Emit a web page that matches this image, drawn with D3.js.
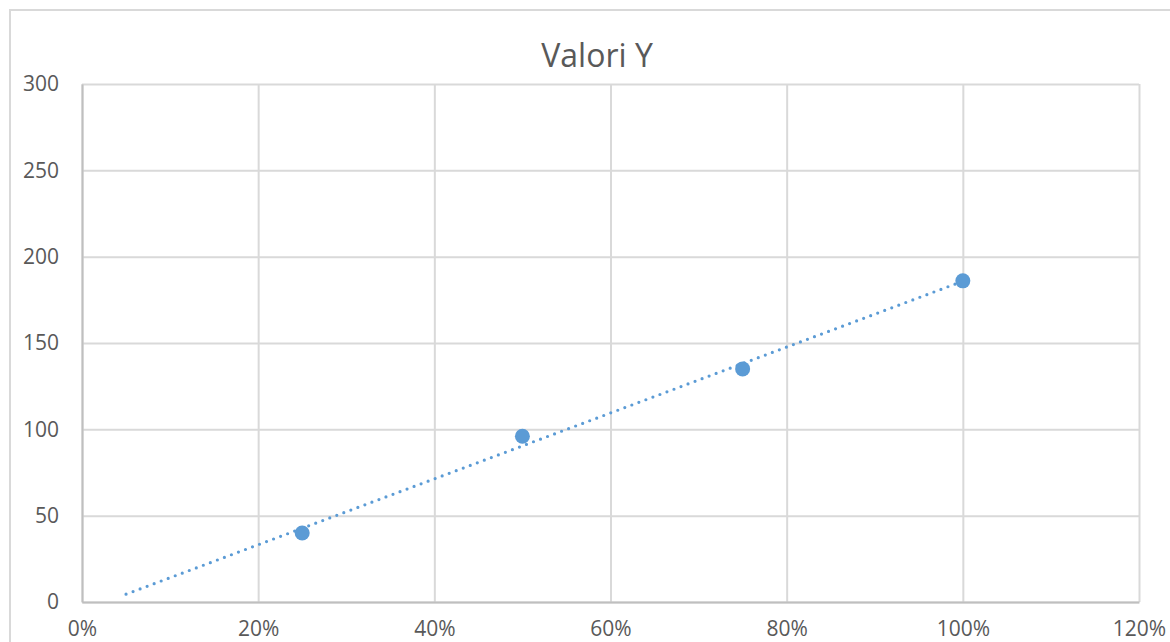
<!DOCTYPE html>
<html>
<head>
<meta charset="utf-8">
<script src="https://cdn.jsdelivr.net/npm/d3@7"></script>
<style>
  body { margin: 0; background: #fff; }
  svg { display: block; font-family: "Open Sans", sans-serif; }
</style>
</head>
<body>
<svg id="chart"></svg>
<script>
// data
const xValues = [0.25, 0.5, 0.75, 1.0];
const yValues = [40, 96, 135, 186];
const xTicks = [0, 0.2, 0.4, 0.6, 0.8, 1.0, 1.2];
const yTicks = [0, 50, 100, 150, 200, 250, 300];
const trendRange = [0.05, 1.0];
const title = 'Valori Y';

const width = 1170;
const height = 642;
const margin = { top: 84, right: 31, bottom: 40, left: 82 };

const svg = d3.select('#chart')
  .attr('width', width)
  .attr('height', height);

// outer chart border (runs off the right/bottom edge)
svg.append('rect')
  .attr('x', 10).attr('y', 10)
  .attr('width', width + 20).attr('height', height + 20)
  .attr('fill', '#fff')
  .attr('stroke', '#d9d9d9')
  .attr('stroke-width', 2);

const x = d3.scaleLinear()
  .domain([0, 1.2])
  .range([margin.left, width - margin.right]);

const y = d3.scaleLinear()
  .domain([0, 300])
  .range([height - margin.bottom, margin.top]);

// gridlines
svg.append('g')
  .attr('transform', `translate(0, ${height - margin.bottom})`)
  .call(d3.axisBottom(x).tickValues(xTicks).tickSize(-(y(0) - y(300))).tickFormat(''))
  .call(g => g.select('.domain').remove())
  .call(g => g.selectAll('line').attr('stroke', '#d9d9d9').attr('stroke-width', 2));

svg.append('g')
  .attr('transform', `translate(${margin.left}, 0)`)
  .call(d3.axisLeft(y).tickValues(yTicks).tickSize(-(x(1.2) - x(0))).tickFormat(''))
  .call(g => g.select('.domain').remove())
  .call(g => g.selectAll('line').attr('stroke', '#d9d9d9').attr('stroke-width', 2));

// axis lines + labels
const xAxis = svg.append('g')
  .attr('transform', `translate(0, ${height - margin.bottom})`)
  .call(d3.axisBottom(x).tickValues(xTicks).tickSize(0).tickPadding(14)
    .tickFormat(d => Math.round(d * 100) + '%'))
  .attr('font-family', null)
  .attr('font-size', null);
xAxis.select('.domain').attr('stroke', '#bfbfbf').attr('stroke-width', 2);
xAxis.selectAll('text')
  .attr('fill', '#595959')
  .style('font-size', '21px')
  .attr('dy', '0.95em');

const yAxis = svg.append('g')
  .attr('transform', `translate(${margin.left}, 0)`)
  .call(d3.axisLeft(y).tickValues(yTicks).tickSize(0).tickPadding(23))
  .attr('font-family', null)
  .attr('font-size', null);
yAxis.select('.domain').attr('stroke', '#bfbfbf').attr('stroke-width', 2);
yAxis.selectAll('text')
  .attr('fill', '#595959')
  .style('font-size', '21px');

// linear trendline (least squares on the points)
const mx = d3.mean(xValues);
const my = d3.mean(yValues);
const slope = d3.sum(xValues, (v, i) => (v - mx) * (yValues[i] - my)) /
  d3.sum(xValues, v => (v - mx) * (v - mx));
const intercept = my - slope * mx;

svg.append('line')
  .attr('x1', x(trendRange[0])).attr('y1', y(intercept + slope * trendRange[0]))
  .attr('x2', x(trendRange[1])).attr('y2', y(intercept + slope * trendRange[1]))
  .attr('stroke', '#5b9bd5')
  .attr('stroke-width', 3.2)
  .attr('stroke-linecap', 'round')
  .attr('stroke-dasharray', '0 7.5');

// points
svg.append('g')
  .selectAll('circle')
  .data(xValues.map((v, i) => ({ x: v, y: yValues[i] })))
  .join('circle')
  .attr('cx', d => x(d.x))
  .attr('cy', d => y(d.y))
  .attr('r', 7.5)
  .attr('fill', '#5b9bd5');

// title
svg.append('text')
  .attr('x', 597)
  .attr('y', 67)
  .attr('text-anchor', 'middle')
  .attr('fill', '#595959')
  .style('font-size', '32px')
  .text(title);
</script>
</body>
</html>
